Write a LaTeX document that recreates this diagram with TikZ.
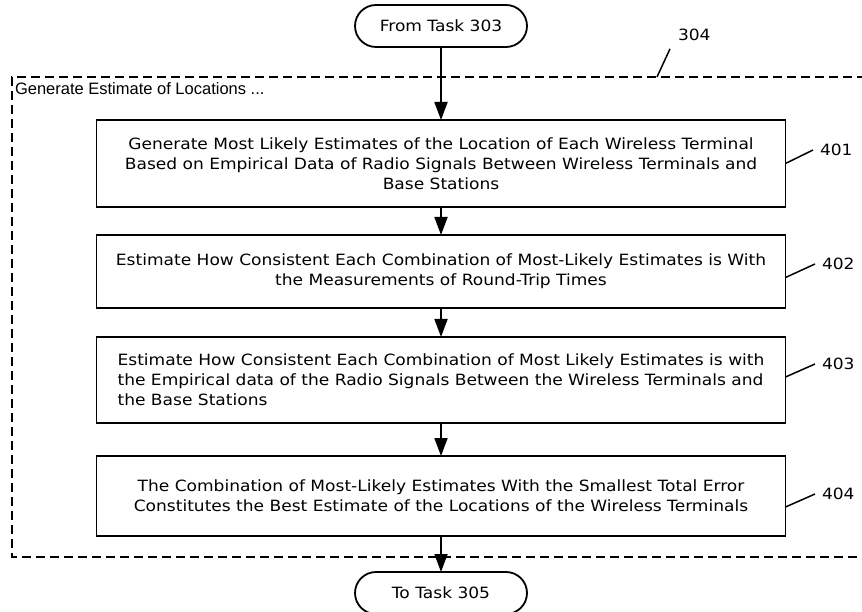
\documentclass[tikz,border=0pt]{standalone}
\usepackage{fontspec}
\setmainfont[FakeStretch=1.1]{DejaVu Sans}
\newfontfamily\arialfont{Liberation Sans}
\usetikzlibrary{arrows.meta}

\begin{document}
\begin{tikzpicture}[x=1pt,y=-1pt,
  every node/.style={inner sep=0pt, outer sep=0pt},
  stepbox/.style={draw, line width=1.8pt, minimum width=689pt, minimum height=#1,
    font=\fontsize{15.5}{20}\selectfont},
  terminal/.style={draw, line width=1.8pt, rounded corners=21pt, minimum width=172pt,
    minimum height=42pt, font=\fontsize{15.5}{19}\selectfont},
  flow/.style={line width=1.8pt, -{Triangle[length=18pt,width=13pt]}},
  leader/.style={line width=1.5pt},
  refnum/.style={font=\fontsize{15.5}{19}\selectfont},
  frame/.style={line width=1.8pt, dash pattern=on 9pt off 5pt}]

\useasboundingbox (0,0) rectangle (862,612);

% dashed frame of task 304 (its right side lies past the page edge)
\draw[frame] (880,77) -- (12,77) -- (12,557) -- (880,557);
\node[anchor=base west, font=\arialfont\fontsize{16.5}{19}\selectfont] (title) at (15,95)
  {Generate Estimate of Locations ...};

% terminals
\node[terminal] (from) at (441,26) {From Task 303};
\node[terminal] (to) at (441,593) {To Task 305};

% steps
\node[stepbox=87pt, align=center] (b401) at (441,163.5)
  {Generate Most Likely Estimates of the Location of Each Wireless Terminal\\
   Based on Empirical Data of Radio Signals Between Wireless Terminals and\\
   Base Stations};
\node[stepbox=73pt, align=center] (b402) at (441,271.5)
  {Estimate How Consistent Each Combination of Most-Likely Estimates is With\\
   the Measurements of Round-Trip Times};
\node[stepbox=86pt, align=left] (b403) at (441,380)
  {Estimate How Consistent Each Combination of Most Likely Estimates is with\\
   the Empirical data of the Radio Signals Between the Wireless Terminals and\\
   the Base Stations};
\node[stepbox=80pt, align=center] (b404) at (441,496)
  {The Combination of Most-Likely Estimates With the Smallest Total Error\\
   Constitutes the Best Estimate of the Locations of the Wireless Terminals};

% flow arrows
\draw[flow] (from) -- (b401);
\draw[flow] (b401) -- (b402);
\draw[flow] (b402) -- (b403);
\draw[flow] (b403) -- (b404);
\draw[flow] (b404) -- (to);

% reference numerals
\node[refnum, anchor=west] (l401) at (820,150) {401};
\node[refnum, anchor=west] (l402) at (822,264) {402};
\node[refnum, anchor=west] (l403) at (822,364) {403};
\node[refnum, anchor=west] (l404) at (822,494) {404};
\node[refnum, anchor=west] (l304) at (678,35) {304};

\draw[leader] (b401.east) -- ([xshift=-7pt]l401.west);
\draw[leader] ([yshift=-6pt]b402.east) -- ([xshift=-7pt]l402.west);
\draw[leader] ([yshift=3pt]b403.east) -- ([xshift=-7pt]l403.west);
\draw[leader] ([yshift=-11pt]b404.east) -- ([xshift=-7pt]l404.west);
\coordinate (s304) at (657,77);
\draw[leader] (s304) -- ([xshift=-8pt,yshift=-8pt]l304.south west);
\end{tikzpicture}
\end{document}
